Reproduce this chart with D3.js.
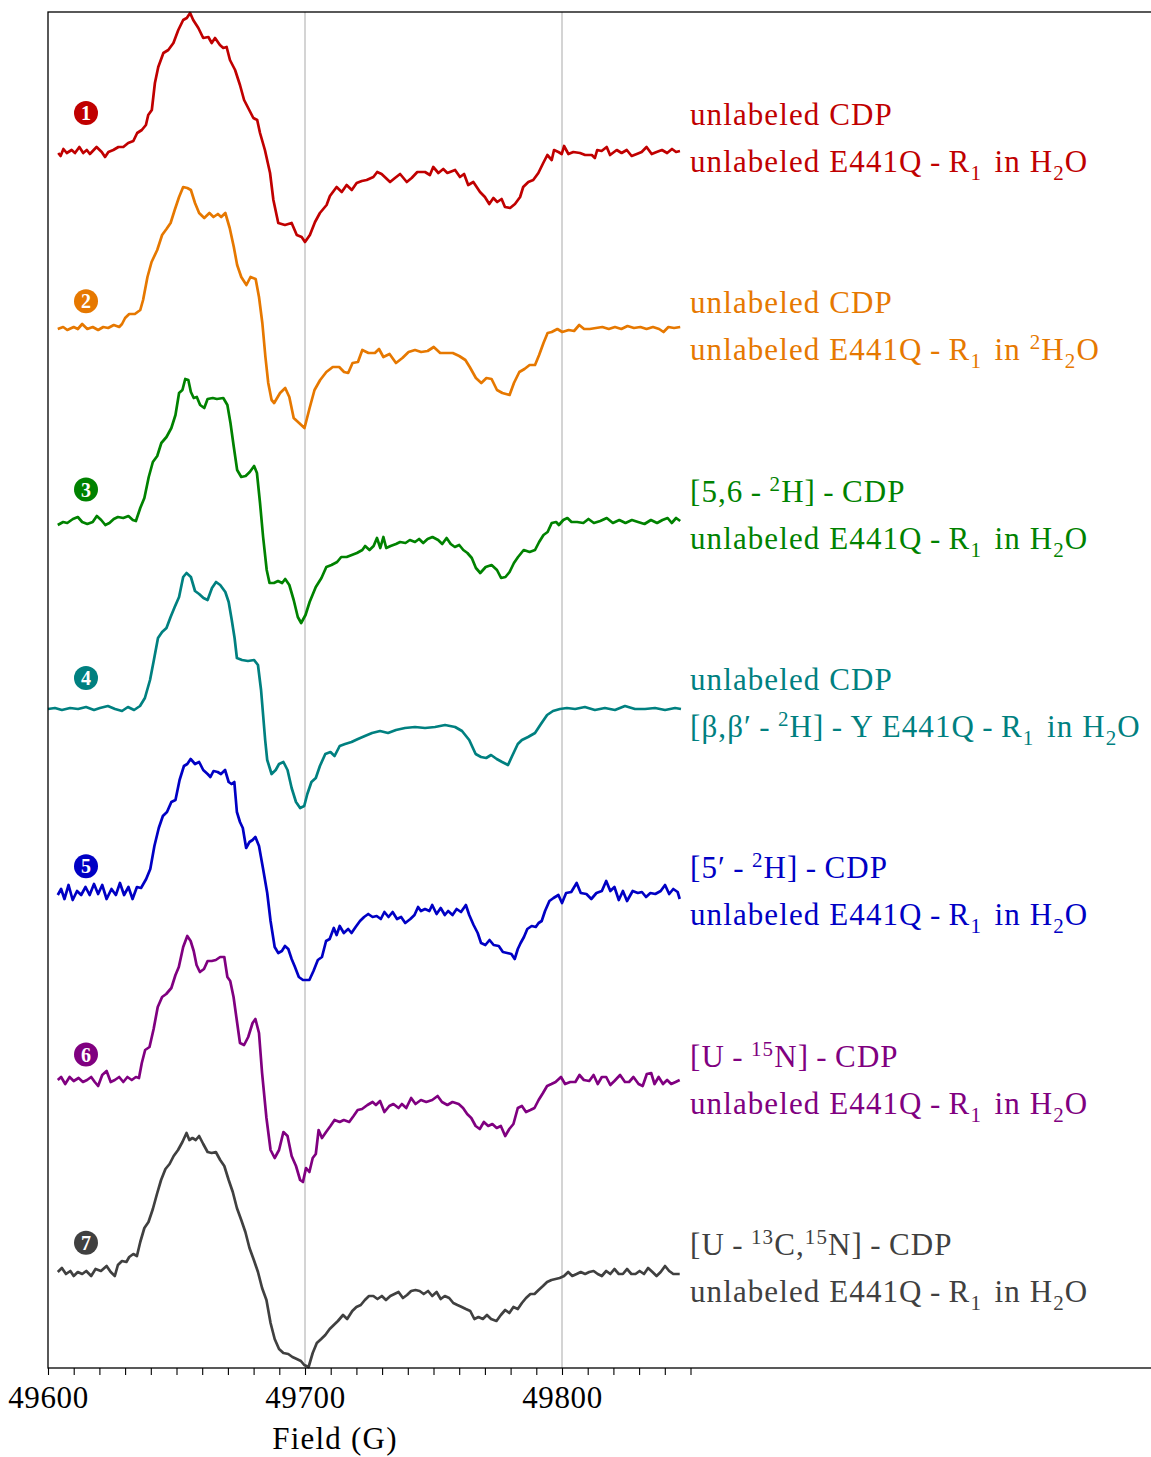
<!DOCTYPE html>
<html>
<head>
<meta charset="utf-8">
<script src="https://cdn.jsdelivr.net/npm/d3@7"></script>
<style>
  html, body { margin: 0; padding: 0; background: #fff; }
  svg { display: block; }
  text { font-family: "Liberation Serif", "DejaVu Serif", serif; }
</style>
</head>
<body>
<div id="chart"></div>
<script>
'use strict';

// spectra: [field (G), intensity (arb. units, baseline = 0)]
const spectrum1 = [[49604.0,-1],[49604.9,-4],[49606.0,3],[49607.3,-1],[49609.2,2],[49610.5,-1],[49612.2,5],[49613.7,-1],[49615.1,2],[49616.3,-2],[49618.9,5],[49620.9,0],[49622.2,-5],[49623.5,0],[49625.4,2],[49627.4,5],[49629.3,5],[49631.2,9],[49633.2,11],[49634.7,19],[49636.5,22],[49638.1,27],[49639.0,37],[49640.4,42],[49641.6,69],[49642.9,85],[49644.9,99],[49646.8,102],[49648.8,109],[49650.7,122],[49652.6,132],[49654.0,134],[49655.3,139],[49656.5,132],[49658.5,124],[49660.4,114],[49662.4,115],[49663.7,109],[49665.0,114],[49666.9,107],[49668.2,104],[49669.5,105],[49670.8,92],[49672.8,82],[49674.7,67],[49676.3,52],[49677.9,44],[49679.9,34],[49681.4,32],[49682.5,19],[49684.4,2],[49686.4,-21],[49687.7,-48],[49689.6,-71],[49692.2,-73],[49694.8,-71],[49696.8,-83],[49698.7,-85],[49700.0,-90],[49701.9,-83],[49703.9,-70],[49705.8,-61],[49708.4,-53],[49709.7,-44],[49712.3,-35],[49714.3,-40],[49716.2,-33],[49718.2,-38],[49720.1,-31],[49722.1,-29],[49724.0,-28],[49726.6,-25],[49728.1,-20],[49729.8,-22],[49733.1,-30],[49735.0,-26],[49737.0,-22],[49739.6,-30],[49741.5,-26],[49743.7,-20],[49746.7,-20],[49748.6,-23],[49749.9,-15],[49751.9,-21],[49753.8,-17],[49755.4,-21],[49758.4,-18],[49760.3,-25],[49761.9,-22],[49763.5,-33],[49765.5,-30],[49768.1,-40],[49770.0,-45],[49771.7,-52],[49773.3,-46],[49774.8,-50],[49776.5,-47],[49777.8,-55],[49779.8,-56],[49781.7,-52],[49783.7,-45],[49784.9,-35],[49786.9,-30],[49788.8,-28],[49790.8,-21],[49792.7,-11],[49794.3,-3],[49796.0,-8],[49796.9,2],[49798.6,0],[49799.9,-2],[49800.8,6],[49802.5,-2],[49804.4,0],[49807.0,-1],[49809.0,-3],[49811.6,-3],[49812.8,-6],[49813.7,2],[49815.4,1],[49817.4,5],[49818.7,-3],[49821.3,2],[49823.2,-1],[49825.2,2],[49827.1,-4],[49829.1,-2],[49831.0,0],[49832.9,5],[49834.9,-2],[49836.8,0],[49838.9,2],[49840.9,-1],[49842.8,3],[49844.4,0],[49845.9,1]];

const spectrum2 = [[49603.8,-1],[49605.9,1],[49607.5,-2],[49610.0,1],[49611.6,-1],[49613.3,4],[49615.3,-1],[49617.4,1],[49619.5,-2],[49621.5,1],[49623.4,0],[49625.6,3],[49627.7,1],[49628.8,4],[49630.0,10],[49631.6,14],[49633.8,14],[49635.9,18],[49637.0,28],[49638.7,51],[49640.3,66],[49642.5,78],[49644.4,93],[49646.1,99],[49647.7,105],[49649.3,118],[49651.0,131],[49652.6,141],[49654.2,140],[49655.6,138],[49657.2,125],[49658.8,115],[49660.8,110],[49662.8,115],[49664.4,111],[49666.1,114],[49667.4,111],[49669.0,115],[49670.7,100],[49672.3,81],[49673.6,63],[49675.2,51],[49677.2,43],[49678.8,51],[49680.8,49],[49682.1,31],[49683.4,5],[49684.6,-29],[49685.7,-55],[49687.0,-72],[49688.0,-75],[49690.3,-65],[49692.3,-60],[49693.9,-69],[49695.6,-90],[49697.7,-95],[49699.8,-100],[49701.8,-80],[49703.7,-62],[49705.9,-52],[49708.3,-44],[49710.8,-39],[49713.3,-39],[49715.2,-44],[49716.8,-45],[49718.5,-35],[49720.6,-34],[49722.3,-22],[49724.7,-25],[49727.2,-25],[49728.8,-21],[49730.5,-29],[49732.9,-26],[49735.4,-35],[49737.9,-30],[49740.3,-24],[49742.8,-22],[49745.2,-24],[49747.7,-23],[49750.1,-19],[49752.6,-25],[49755.1,-25],[49757.5,-25],[49760.0,-28],[49762.4,-32],[49764.1,-39],[49766.5,-50],[49768.6,-55],[49770.6,-50],[49772.6,-51],[49774.7,-62],[49776.8,-65],[49779.6,-67],[49781.3,-55],[49783.4,-44],[49785.4,-41],[49787.4,-37],[49789.5,-37],[49791.1,-27],[49792.8,-15],[49794.4,-5],[49796.0,-4],[49798.2,-1],[49800.1,-4],[49802.6,-2],[49804.7,-3],[49806.7,3],[49808.6,-1],[49810.8,-1],[49813.2,0],[49815.7,1],[49818.2,-1],[49820.6,1],[49823.1,-1],[49825.5,2],[49828.0,0],[49830.5,1],[49832.9,-1],[49835.4,1],[49837.8,-1],[49839.5,-4],[49841.4,1],[49843.6,0],[49846.0,1]];

const spectrum3 = [[49603.8,-4],[49605.9,-1],[49607.5,-2],[49609.7,2],[49611.6,4],[49613.3,-1],[49615.3,-3],[49617.4,-1],[49619.0,5],[49620.7,1],[49622.3,-4],[49623.9,-2],[49625.6,2],[49627.2,4],[49629.3,3],[49631.3,5],[49633.0,1],[49634.2,0],[49635.9,13],[49637.5,23],[49639.2,44],[49640.8,59],[49642.5,65],[49644.1,78],[49646.1,84],[49648.0,93],[49649.6,106],[49651.0,128],[49652.3,131],[49653.4,142],[49654.6,141],[49655.6,129],[49656.7,123],[49657.9,124],[49659.2,116],[49660.8,113],[49662.1,122],[49664.1,123],[49665.7,122],[49668.2,123],[49669.8,116],[49671.0,98],[49672.3,74],[49673.6,51],[49675.2,44],[49676.9,45],[49678.5,49],[49680.2,55],[49681.3,48],[49682.5,18],[49683.7,-16],[49685.1,-49],[49686.2,-62],[49687.9,-62],[49689.5,-60],[49691.1,-62],[49692.3,-58],[49693.9,-64],[49695.6,-79],[49697.2,-96],[49698.5,-102],[49700.2,-94],[49701.8,-81],[49704.2,-66],[49706.4,-57],[49708.3,-46],[49710.3,-44],[49712.5,-41],[49714.1,-36],[49716.2,-36],[49718.2,-34],[49720.2,-32],[49722.3,-29],[49723.4,-25],[49725.1,-29],[49726.7,-25],[49728.0,-17],[49729.3,-27],[49730.5,-16],[49731.6,-27],[49733.3,-25],[49735.4,-23],[49737.0,-21],[49739.1,-22],[49740.8,-19],[49742.8,-21],[49744.4,-18],[49746.0,-22],[49747.7,-18],[49749.6,-16],[49751.8,-19],[49753.4,-23],[49755.1,-17],[49756.7,-23],[49758.3,-26],[49760.0,-24],[49761.6,-29],[49763.2,-32],[49764.9,-37],[49766.5,-47],[49768.2,-52],[49770.3,-46],[49772.6,-44],[49774.7,-49],[49776.3,-57],[49778.0,-56],[49779.6,-51],[49781.3,-42],[49782.9,-36],[49785.1,-29],[49787.4,-31],[49789.5,-29],[49791.1,-21],[49792.8,-14],[49794.4,-11],[49796.0,-2],[49797.7,-1],[49798.8,-4],[49800.5,1],[49802.1,3],[49803.7,-1],[49805.9,-1],[49808.3,-2],[49810.3,2],[49812.4,-2],[49814.9,0],[49817.4,3],[49819.8,-2],[49822.3,1],[49824.7,-2],[49827.2,1],[49829.6,-1],[49832.1,-3],[49834.6,1],[49837.0,-2],[49839.1,1],[49841.1,3],[49842.7,-2],[49844.4,3],[49846.0,0]];

const spectrum4 = [[49600.0,0],[49602.7,1],[49605.4,-1],[49608.6,1],[49611.7,0],[49614.8,2],[49617.9,-1],[49620.2,1],[49623.3,3],[49626.1,0],[49628.8,-2],[49631.1,2],[49633.5,-1],[49635.8,3],[49637.7,11],[49639.7,29],[49641.2,49],[49642.8,71],[49644.4,77],[49646.1,81],[49647.7,92],[49649.3,102],[49651.0,112],[49652.6,132],[49653.9,136],[49655.6,132],[49657.2,118],[49658.8,115],[49660.5,111],[49662.1,109],[49663.8,121],[49665.4,127],[49667.0,124],[49669.0,117],[49670.3,107],[49671.5,89],[49672.6,71],[49673.5,51],[49675.5,49],[49677.8,48],[49680.2,49],[49681.7,44],[49682.9,19],[49684.5,-31],[49685.3,-51],[49687.0,-65],[49688.6,-61],[49689.9,-55],[49691.6,-53],[49693.2,-61],[49694.8,-79],[49696.5,-93],[49698.1,-99],[49699.7,-97],[49700.9,-85],[49702.5,-73],[49704.2,-69],[49705.8,-57],[49707.9,-45],[49709.9,-43],[49711.5,-47],[49713.5,-37],[49715.6,-35],[49718.1,-33],[49720.6,-30],[49723.3,-27],[49726.1,-24],[49729.2,-22],[49732.3,-24],[49735.4,-21],[49738.9,-19],[49742.8,-18],[49746.7,-19],[49750.6,-18],[49754.5,-16],[49758.4,-18],[49761.1,-22],[49763.9,-31],[49766.4,-45],[49768.5,-48],[49770.5,-49],[49772.4,-46],[49774.6,-50],[49776.7,-53],[49779.0,-56],[49780.6,-47],[49782.8,-35],[49784.4,-31],[49786.8,-28],[49789.5,-24],[49791.8,-15],[49794.2,-6],[49796.5,-2],[49799.2,0],[49801.9,1],[49805.1,0],[49808.9,2],[49812.8,-1],[49816.7,1],[49820.6,-1],[49824.5,3],[49828.4,0],[49832.3,0],[49836.2,1],[49840.1,-1],[49844.0,1],[49846.3,0]];

const spectrum5 = [[49603.8,-5],[49605.1,1],[49606.4,-9],[49608.0,5],[49609.6,-10],[49611.3,-1],[49612.9,-5],[49614.6,3],[49616.2,-5],[49617.9,6],[49619.5,-4],[49621.1,5],[49622.8,-9],[49624.7,1],[49626.4,-5],[49628.0,7],[49629.6,-5],[49631.3,3],[49632.9,-9],[49634.6,3],[49636.2,2],[49638.2,11],[49639.8,21],[49641.4,44],[49643.1,62],[49644.7,74],[49646.3,78],[49648.0,88],[49649.6,90],[49651.2,110],[49652.9,124],[49654.2,126],[49655.5,131],[49657.2,126],[49658.8,128],[49660.4,120],[49662.1,116],[49663.2,113],[49664.4,119],[49666.0,118],[49667.3,116],[49668.9,120],[49670.3,108],[49671.4,106],[49672.5,108],[49673.5,78],[49674.7,68],[49675.8,62],[49677.1,42],[49678.4,48],[49679.6,50],[49680.7,53],[49682.1,44],[49683.7,21],[49685.3,-3],[49686.6,-31],[49688.2,-57],[49689.6,-63],[49691.0,-61],[49692.2,-56],[49693.5,-59],[49694.8,-69],[49696.1,-77],[49697.6,-87],[49699.2,-90],[49701.7,-90],[49703.3,-81],[49705.0,-70],[49706.6,-67],[49708.2,-51],[49709.6,-49],[49711.2,-38],[49712.3,-45],[49713.5,-36],[49715.1,-43],[49716.8,-39],[49718.1,-43],[49719.7,-37],[49721.4,-31],[49723.0,-27],[49724.6,-24],[49726.3,-27],[49727.9,-26],[49729.5,-29],[49730.9,-22],[49732.5,-27],[49734.1,-22],[49735.8,-29],[49737.4,-27],[49739.0,-33],[49741.0,-29],[49742.6,-25],[49744.0,-17],[49745.1,-21],[49746.7,-19],[49748.4,-21],[49749.5,-15],[49751.2,-24],[49752.8,-18],[49754.4,-25],[49755.7,-21],[49757.4,-25],[49759.0,-19],[49760.7,-22],[49762.6,-15],[49763.9,-25],[49765.6,-35],[49767.2,-43],[49768.5,-53],[49770.2,-55],[49771.8,-50],[49773.4,-55],[49775.4,-56],[49777.0,-62],[49778.7,-63],[49780.3,-64],[49781.6,-69],[49782.8,-59],[49783.9,-53],[49785.2,-47],[49786.5,-39],[49788.2,-36],[49789.8,-37],[49790.9,-33],[49792.1,-31],[49793.4,-21],[49795.1,-11],[49796.7,-8],[49798.6,-5],[49800.0,-13],[49801.6,-3],[49803.6,-2],[49805.7,7],[49807.3,-3],[49809.5,-4],[49811.4,-9],[49813.4,-3],[49815.5,-1],[49817.2,9],[49818.8,-1],[49820.4,3],[49822.1,-10],[49823.7,-1],[49825.3,-11],[49827.5,-1],[49829.5,-3],[49831.1,-2],[49832.7,-7],[49834.4,-3],[49836.3,-4],[49838.4,-1],[49840.1,5],[49841.7,-4],[49843.3,1],[49845.0,-2],[49845.8,-9]];

const spectrum6 = [[49603.8,-1],[49605.1,2],[49606.7,-5],[49608.4,2],[49610.0,-2],[49611.9,1],[49613.6,-3],[49615.2,-1],[49616.8,2],[49618.2,-3],[49619.5,-7],[49621.1,4],[49622.8,8],[49624.4,-3],[49626.0,-1],[49627.7,2],[49629.3,-3],[49630.9,2],[49632.6,-1],[49634.2,2],[49635.4,1],[49636.5,16],[49637.8,29],[49639.5,32],[49641.1,50],[49642.7,72],[49644.4,82],[49646.0,85],[49648.0,91],[49649.6,104],[49650.9,112],[49652.6,132],[49654.2,143],[49655.5,138],[49656.7,128],[49657.8,114],[49659.1,107],[49660.7,110],[49662.1,118],[49663.7,118],[49665.3,119],[49667.0,122],[49668.6,122],[49669.8,102],[49670.9,98],[49672.2,82],[49673.5,58],[49674.7,36],[49676.3,34],[49677.9,42],[49679.6,56],[49680.7,60],[49682.1,46],[49683.3,6],[49685.0,-39],[49686.6,-71],[49688.2,-79],[49689.9,-71],[49691.6,-53],[49693.2,-57],[49694.8,-77],[49696.5,-87],[49698.1,-101],[49699.2,-103],[49700.4,-89],[49701.7,-93],[49703.0,-79],[49704.2,-75],[49705.3,-51],[49706.6,-59],[49708.2,-53],[49709.9,-47],[49711.5,-41],[49713.5,-43],[49715.1,-41],[49717.2,-43],[49718.9,-37],[49720.5,-31],[49722.2,-30],[49724.3,-26],[49726.3,-23],[49727.6,-26],[49729.2,-22],[49730.9,-33],[49732.8,-27],[49734.4,-25],[49736.4,-29],[49737.7,-25],[49739.4,-29],[49741.3,-19],[49743.0,-25],[49745.1,-21],[49747.2,-23],[49749.5,-21],[49751.6,-17],[49753.3,-23],[49755.4,-26],[49757.4,-23],[49759.8,-25],[49761.5,-29],[49763.1,-35],[49764.7,-39],[49766.4,-47],[49768.0,-50],[49769.6,-43],[49771.3,-47],[49772.9,-45],[49774.6,-49],[49776.2,-47],[49777.9,-57],[49779.5,-50],[49781.1,-45],[49782.8,-29],[49784.4,-27],[49786.0,-33],[49787.7,-31],[49789.3,-29],[49790.9,-21],[49792.6,-14],[49794.2,-7],[49795.9,-5],[49797.5,-3],[49799.6,2],[49801.2,-5],[49803.2,-3],[49805.2,-3],[49806.8,4],[49808.5,-1],[49810.6,-2],[49812.3,4],[49813.9,-5],[49815.5,2],[49817.2,2],[49818.8,-6],[49820.4,-2],[49822.6,4],[49824.5,-3],[49826.1,-3],[49827.8,2],[49829.8,-5],[49831.4,-7],[49833.0,5],[49834.7,6],[49836.0,-5],[49837.6,2],[49839.3,-5],[49840.9,-1],[49842.5,-5],[49844.2,-3],[49845.8,-1]];

const spectrum7 = [[49603.8,0],[49605.4,4],[49607.0,-2],[49608.7,1],[49610.0,-4],[49611.6,0],[49613.3,-2],[49614.9,1],[49616.8,-4],[49618.5,3],[49620.6,1],[49622.8,6],[49624.4,0],[49626.0,-4],[49627.2,7],[49628.8,11],[49630.5,10],[49631.6,15],[49633.2,18],[49634.6,16],[49635.9,30],[49637.5,44],[49639.1,50],[49640.8,63],[49642.4,78],[49644.0,92],[49645.7,103],[49647.3,108],[49648.9,116],[49650.6,122],[49652.3,130],[49653.9,139],[49655.0,132],[49656.2,134],[49657.5,132],[49658.8,136],[49660.4,128],[49662.1,120],[49663.7,119],[49665.3,120],[49667.0,112],[49668.6,106],[49670.3,92],[49671.9,80],[49673.5,64],[49675.2,52],[49676.8,40],[49678.4,24],[49680.1,12],[49681.7,0],[49683.3,-16],[49685.0,-28],[49686.6,-51],[49688.2,-67],[49689.9,-77],[49691.6,-81],[49693.5,-82],[49695.1,-85],[49696.8,-87],[49698.4,-89],[49699.7,-93],[49701.4,-95],[49703.0,-81],[49704.6,-71],[49706.3,-67],[49707.9,-63],[49709.6,-57],[49711.2,-53],[49712.8,-49],[49714.8,-43],[49716.4,-47],[49718.4,-39],[49720.0,-35],[49721.7,-33],[49723.3,-28],[49724.9,-24],[49726.6,-24],[49728.2,-27],[49729.9,-24],[49731.5,-28],[49733.2,-24],[49734.8,-22],[49736.4,-20],[49738.1,-26],[49739.7,-23],[49741.3,-19],[49743.0,-18],[49744.6,-19],[49746.2,-22],[49747.9,-19],[49749.5,-24],[49751.2,-20],[49752.8,-27],[49754.4,-24],[49756.1,-26],[49757.7,-31],[49759.3,-33],[49761.0,-35],[49762.6,-37],[49764.3,-39],[49765.9,-47],[49767.5,-45],[49769.2,-47],[49770.8,-43],[49772.4,-47],[49774.5,-49],[49776.2,-43],[49777.9,-38],[49779.5,-41],[49781.1,-35],[49782.8,-37],[49784.4,-31],[49786.0,-26],[49787.7,-22],[49789.3,-22],[49790.9,-18],[49792.6,-14],[49794.2,-10],[49795.9,-8],[49797.5,-7],[49799.1,-6],[49800.8,-4],[49802.4,0],[49804.0,-4],[49805.7,-2],[49807.3,0],[49809.0,-2],[49810.6,0],[49812.3,1],[49813.9,-2],[49815.5,-4],[49817.2,1],[49818.8,-2],[49820.4,3],[49822.1,-2],[49823.7,-2],[49825.3,3],[49827.0,-2],[49828.6,-2],[49830.2,1],[49831.9,-2],[49833.5,4],[49835.2,0],[49836.8,-4],[49838.4,0],[49840.1,6],[49841.7,1],[49843.3,-2],[49845.8,-2]];

const spectra = [spectrum1, spectrum2, spectrum3, spectrum4, spectrum5, spectrum6, spectrum7];

// vertical stacking offset of each spectrum (same units as intensity)
const offsets = [1216, 1040, 847, 659, 478, 289, 96];

const colors = ['#c00000', '#e67800', '#008200', '#008080', '#0000c4', '#800080', '#404040'];

const sampleNumbers = ['1', '2', '3', '4', '5', '6', '7'];

// label markup: ^{..} superscript, _{..} subscript
const labelLine1 = [
    'unlabeled CDP',
    'unlabeled CDP',
    '[5,6\u2009-\u2009^{2}H]\u2009-\u2009CDP',
    'unlabeled CDP',
    '[5\u2032\u2009-\u2009^{2}H]\u2009-\u2009CDP',
    '[U\u2009-\u2009^{15}N]\u2009-\u2009CDP',
    '[U\u2009-\u2009^{13}C,^{15}N]\u2009-\u2009CDP'
];
const labelLine2 = [
    'unlabeled E441Q\u2009-\u2009R_{1} \u200ain H_{2}O',
    'unlabeled E441Q\u2009-\u2009R_{1} \u200ain ^{2}H_{2}O',
    'unlabeled E441Q\u2009-\u2009R_{1} \u200ain H_{2}O',
    '[\u03b2,\u03b2\u2032\u2009-\u2009^{2}H]\u2009-\u2009Y E441Q\u2009-\u2009R_{1} \u200ain H_{2}O',
    'unlabeled E441Q\u2009-\u2009R_{1} \u200ain H_{2}O',
    'unlabeled E441Q\u2009-\u2009R_{1} \u200ain H_{2}O',
    'unlabeled E441Q\u2009-\u2009R_{1} \u200ain H_{2}O'
];

const tickFields = d3.range(49600, 49851, 10);
const labeledTicks = [49600, 49700, 49800];
const guideFields = [49700, 49800];

const width = 1151, height = 1457;
const margin = {top: 12, left: 48, bottom: 89};
const plotBottom = height - margin.bottom;

const svg = d3.select('#chart').append('svg')
    .attr('width', width)
    .attr('height', height);

const x = d3.scaleLinear()
    .domain([49600, 50040])
    .range([margin.left, margin.left + 440 * 2.57]);

const y = d3.scaleLinear()
    .domain([0, plotBottom - margin.top])
    .range([plotBottom, margin.top]);

// vertical guide lines
svg.append('g')
  .selectAll('line')
  .data(guideFields)
  .join('line')
    .attr('x1', d => x(d)).attr('x2', d => x(d))
    .attr('y1', margin.top).attr('y2', plotBottom)
    .attr('stroke', '#bdbdbd')
    .attr('stroke-width', 1.3);

// spectra
const line = d3.line()
    .x(d => x(d[0]))
    .y(d => y(d[1]));

svg.append('g')
  .selectAll('path')
  .data(spectra)
  .join('path')
    .attr('d', (d, i) => line(d.map(p => [p[0], p[1] + offsets[i]])))
    .attr('fill', 'none')
    .attr('stroke', (d, i) => colors[i])
    .attr('stroke-width', 2.7)
    .attr('stroke-linejoin', 'round');

// axes frame
svg.append('rect')
    .attr('x', margin.left)
    .attr('y', margin.top)
    .attr('width', 1300)
    .attr('height', plotBottom - margin.top)
    .attr('fill', 'none')
    .attr('stroke', '#000')
    .attr('stroke-width', 1.3);

const xAxis = svg.append('g')
    .attr('transform', `translate(0, ${plotBottom})`)
    .call(d3.axisBottom(x)
        .tickValues(tickFields)
        .tickSize(7)
        .tickPadding(11)
        .tickFormat(d => labeledTicks.includes(d) ? d : ''));
xAxis.select('.domain').remove();
xAxis.selectAll('line').attr('stroke', '#000').attr('stroke-width', 1.1);
xAxis.selectAll('text')
    .attr('fill', '#000')
    .style('font-family', '"Liberation Serif", serif')
    .style('font-size', '31px')
    .style('letter-spacing', '0.6px');

svg.append('text')
    .attr('x', 335)
    .attr('y', 1449)
    .attr('text-anchor', 'middle')
    .style('font-size', '31px')
    .style('letter-spacing', '1.2px')
    .text('Field (G)');

// numbered markers and labels
function richText(sel, markup) {
    const parts = [];
    const re = /([\^_])\{([^}]*)\}|([^\^_]+)/g;
    let m;
    while ((m = re.exec(markup)) !== null) {
        if (m[3]) parts.push({t: m[3], s: 0});
        else parts.push({t: m[2], s: m[1] === '^' ? -11 : 8});
    }
    let prev = 0;
    parts.forEach(p => {
        const ts = sel.append('tspan')
            .attr('dy', p.s - prev)
            .text(p.t);
        if (p.s !== 0) ts.style('font-size', '21px');
        prev = p.s;
    });
}

spectra.forEach((s, i) => {
    const my = 113 + i * 188.3;
    svg.append('circle')
        .attr('cx', 86).attr('cy', my).attr('r', 12)
        .attr('fill', colors[i]);
    svg.append('text')
        .attr('x', 86).attr('y', my + 7)
        .attr('text-anchor', 'middle')
        .attr('fill', '#fff')
        .style('font-size', '20px')
        .style('font-weight', 'bold')
        .text(sampleNumbers[i]);

    const ly = my + 12;
    [labelLine1[i], labelLine2[i]].forEach((markup, k) => {
        const t = svg.append('text')
            .attr('x', 690).attr('y', ly + k * 47)
            .attr('fill', colors[i])
            .style('font-size', '31px')
            .style('letter-spacing', '1.1px')
            .style('white-space', 'pre');
        richText(t, markup);
    });
});
</script>
</body>
</html>
